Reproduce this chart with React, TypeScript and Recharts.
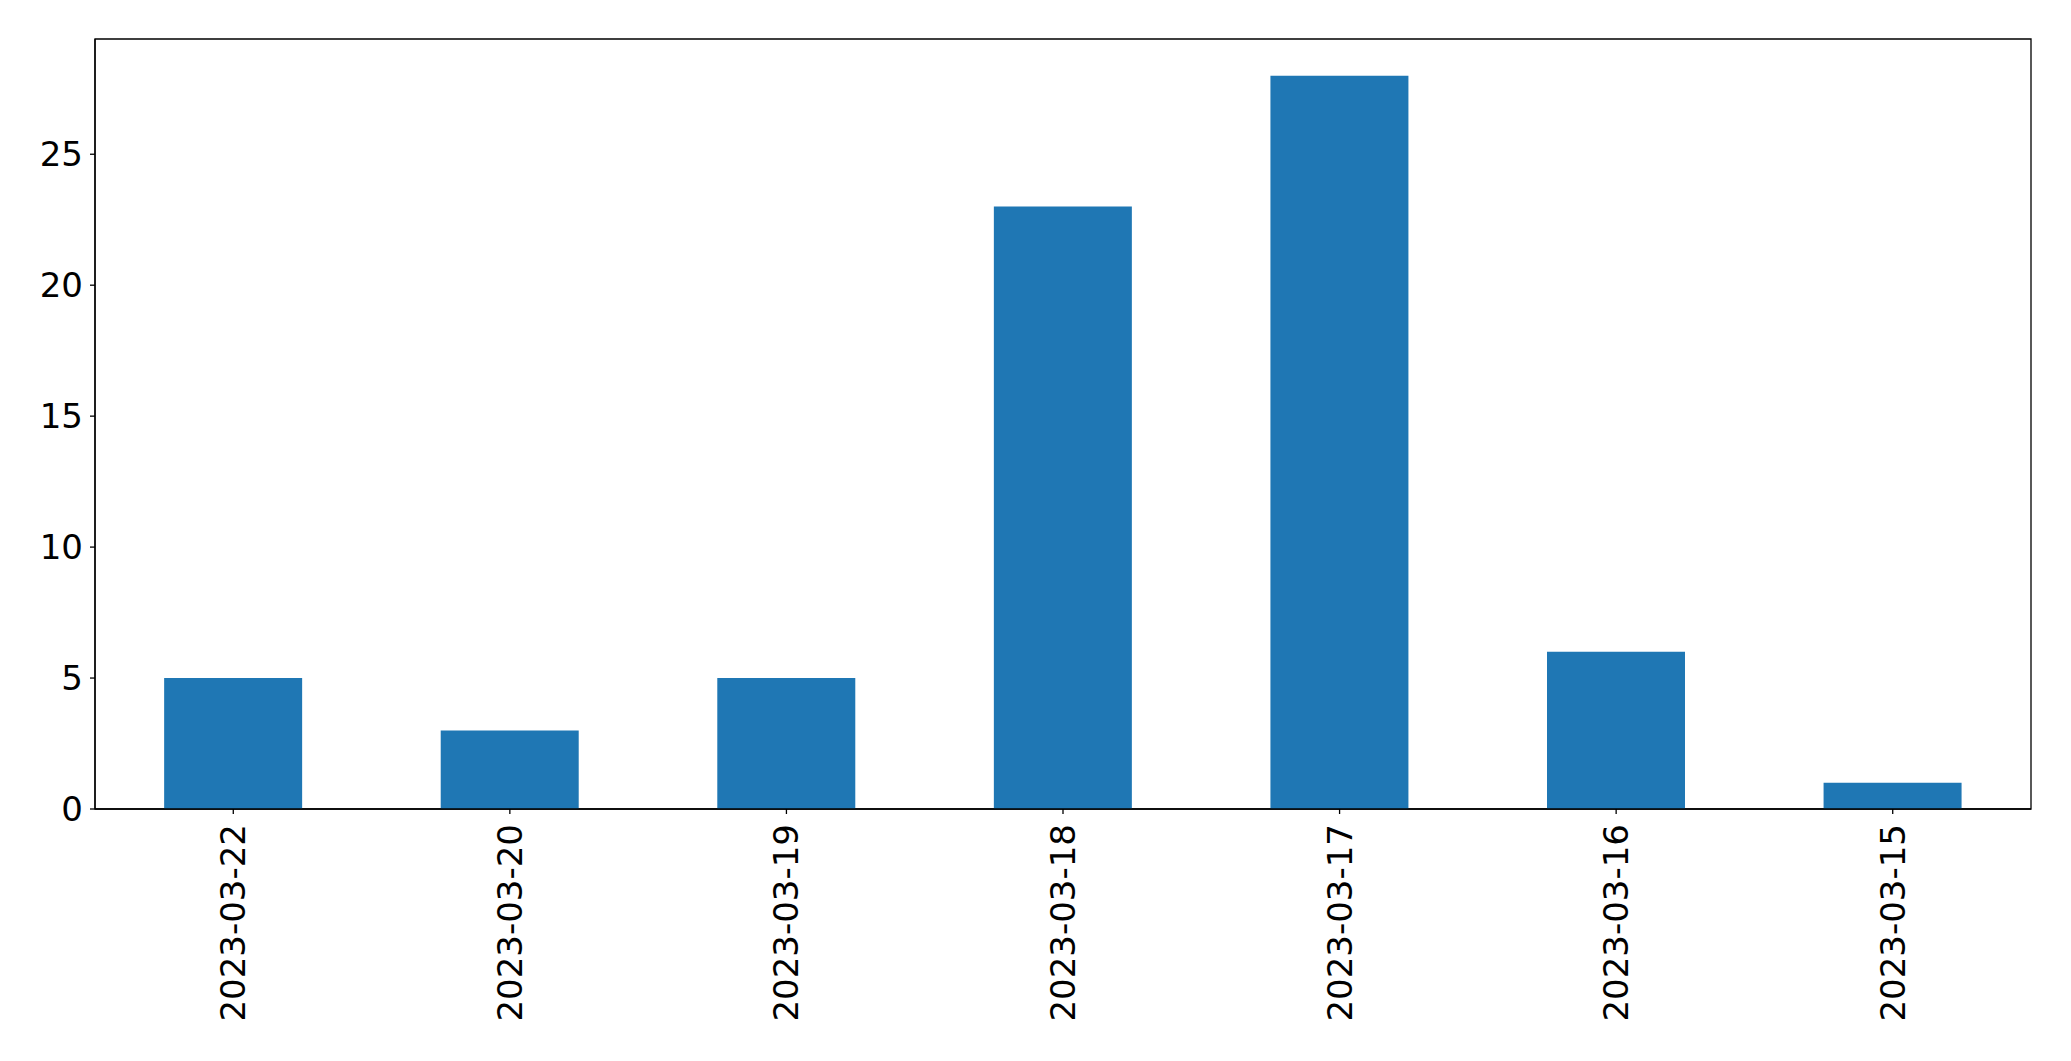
import React from 'react';
import { BarChart, Bar, XAxis, YAxis, ReferenceArea } from 'recharts';

const DATES = ['2023-03-22', '2023-03-20', '2023-03-19', '2023-03-18', '2023-03-17', '2023-03-16', '2023-03-15'];
const COUNTS = [5, 3, 5, 23, 28, 6, 1];
const Y_TICKS = [0, 5, 10, 15, 20, 25];
const Y_MAX = 29.4;

const FONT = '"DejaVu Sans", sans-serif';

const DateTick = ({ x, y, payload }: any) => (
  <text
    x={x}
    y={y}
    transform={`rotate(-90, ${x}, ${y})`}
    textAnchor="end"
    dominantBaseline="central"
    fontFamily={FONT}
    fontSize={34}
    fill="#000"
  >
    {payload.value}
  </text>
);

const App: React.FC = () => {
  const data = DATES.map((date, i) => ({ date, count: COUNTS[i] }));

  return (
    <div style={{ position: 'absolute', left: 0, top: 0, width: 2071, height: 1061, background: '#fff' }}>
      <BarChart
        width={2071}
        height={1061}
        data={data}
        margin={{ top: 39, right: 40, left: 0, bottom: 0 }}
        barCategoryGap="25%"
      >
        <XAxis
          dataKey="date"
          type="category"
          height={252}
          tick={<DateTick />}
          tickSize={5}
          tickMargin={10}
          tickLine={{ stroke: '#000', strokeWidth: 1.3 }}
          axisLine={{ stroke: '#000', strokeWidth: 1.3 }}
          interval={0}
        />
        <YAxis
          type="number"
          domain={[0, Y_MAX]}
          ticks={Y_TICKS}
          width={95}
          tickSize={5}
          tickMargin={7}
          tick={{ fill: '#000', fontSize: 34, fontFamily: FONT }}
          tickLine={{ stroke: '#000', strokeWidth: 1.3 }}
          axisLine={{ stroke: '#000', strokeWidth: 1.3 }}
          allowDataOverflow
        />
        <Bar dataKey="count" fill="#1f77b4" isAnimationActive={false} />
        <ReferenceArea
          x1={DATES[0]}
          x2={DATES[DATES.length - 1]}
          y1={0}
          y2={Y_MAX}
          fill="none"
          fillOpacity={0}
          stroke="#000"
          strokeWidth={1.3}
          ifOverflow="visible"
        />
      </BarChart>
    </div>
  );
};

export default App;
